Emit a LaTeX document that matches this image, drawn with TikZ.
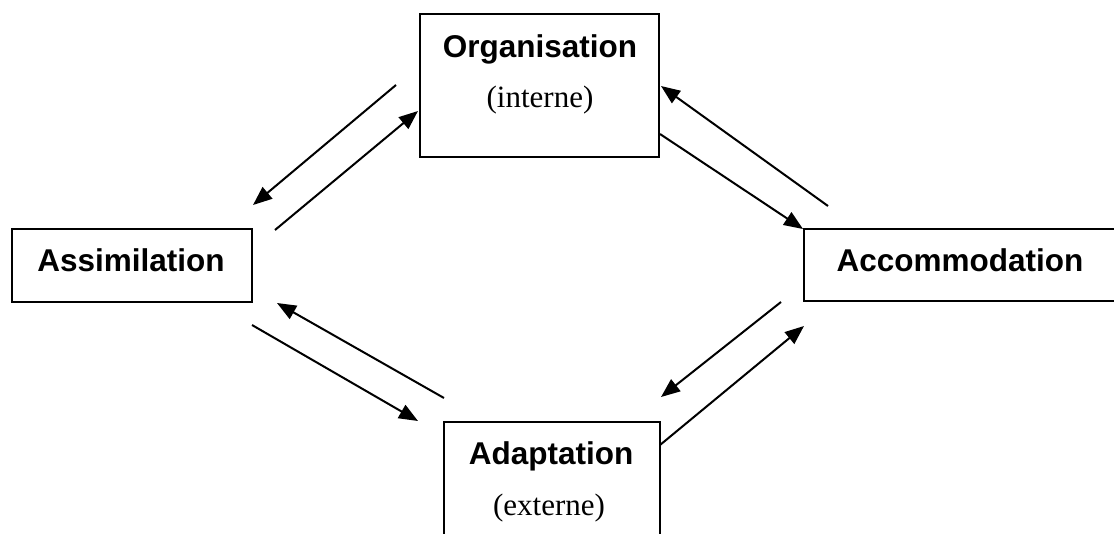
\documentclass[tikz,border=0pt]{standalone}
\usepackage{fontspec}
\setmainfont{Liberation Serif}
\newfontfamily\sansb{Liberation Sans}
\usetikzlibrary{arrows.meta}
\begin{document}
\begin{tikzpicture}[x=1pt,y=-1pt,
  box/.style={draw,line width=1.8pt,inner sep=0pt,outer sep=0pt},
  title/.style={anchor=base,inner sep=0pt,font=\sansb\bfseries\fontsize{31.5}{37}\selectfont},
  sub/.style={anchor=base,inner sep=0pt,font=\fontsize{31}{37}\selectfont},
  conn/.style={line width=2pt,-{Triangle[length=19pt,width=15pt]}}]
\clip (0,0) rectangle (1114,533);
\fill[white] (0,0) rectangle (1114,533);
% boxes
\node[box,minimum width=239pt,minimum height=143pt] (org) at (539.5,85.5) {};
\node[box,minimum width=216pt,minimum height=123pt] (adap) at (552,483.5) {};
\node[box,minimum width=240pt,minimum height=73pt] (assim) at (132,265.5) {};
\node[box,minimum width=326pt,minimum height=72pt] (acc) at (967,265) {};
% texts
\node[title] (orgT) at (540,57) {Organisation};
\node[sub] (orgS) at (540,107) {(interne)};
\node[title] (adapT) at (551,464) {Adaptation};
\node[sub] (adapS) at (549,515) {(externe)};
\node[title] (assimT) at (131,271) {Assimilation};
\node[title] (accT) at (960,271) {Accommodation};
% connector end points
\coordinate (a1s) at (396,85);  \coordinate (a1e) at (253,205);
\coordinate (a2s) at (275,230); \coordinate (a2e) at (418,111);
\coordinate (a3s) at (828,206); \coordinate (a3e) at (661,86);
\coordinate (a4s) at (660,134); \coordinate (a4e) at (803,229);
\coordinate (a5s) at (781,302); \coordinate (a5e) at (661,397);
\coordinate (a6s) at (660,445); \coordinate (a6e) at (804,326);
\coordinate (a7s) at (444,398); \coordinate (a7e) at (277,303);
\coordinate (a8s) at (252,325); \coordinate (a8e) at (418,421);
\draw[conn] (a1s) -- (a1e);
\draw[conn] (a2s) -- (a2e);
\draw[conn] (a3s) -- (a3e);
\draw[conn] (a4s) -- (a4e);
\draw[conn] (a5s) -- (a5e);
\draw[conn] (a6s) -- (a6e);
\draw[conn] (a7s) -- (a7e);
\draw[conn] (a8s) -- (a8e);
\end{tikzpicture}
\end{document}
